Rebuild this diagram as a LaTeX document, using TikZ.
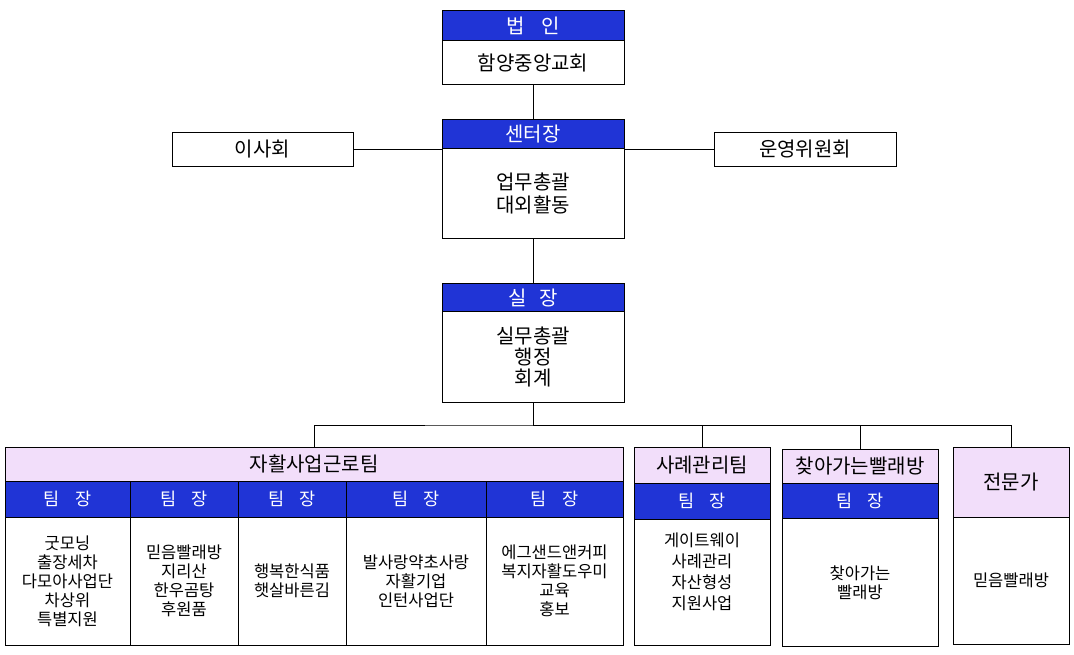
\documentclass[tikz,border=0pt]{standalone}
\usepackage{fontspec}
\setmainfont{Noto Sans CJK KR}
\definecolor{hdrblue}{RGB}{32,52,214}
\definecolor{teampink}{RGB}{242,222,250}
\tikzset{
  hdr/.style={draw, fill=hdrblue, text=white, inner sep=0pt, font=\fontsize{20}{24}\selectfont},
  subhdr/.style={hdr, font=\fontsize{17.5}{21}\selectfont},
  body/.style={draw, fill=white, inner sep=0pt, align=center, font=\fontsize{20}{23}\selectfont},
  small/.style={body, font=\fontsize{16.5}{19}\selectfont},
  pinkhdr/.style={draw, fill=teampink, inner sep=0pt, align=center, font=\fontsize{20}{24}\selectfont}
}
\begin{document}
\begin{tikzpicture}[x=1pt, y=-1pt, line width=1pt]
			\useasboundingbox (0,0) rectangle (1074,655);

			% Top boxes
			\node[hdr, minimum width=182pt, minimum height=29.7pt] (bubinhdr) at (533,25.85) {법\hspace{0.85em}인};
			\node[body, minimum width=182pt, minimum height=44.3pt] (bubinbody) at (533,62.85) {함양중앙교회};
			\node[hdr, minimum width=182pt, minimum height=28.7pt] (centerhdr) at (533,134.35) {센터장};
			\node[body, minimum width=182pt, minimum height=90.3pt] (centerbody) at (533,193.85) {업무총괄\\대외활동};
			\node[body, minimum width=181pt, minimum height=34pt] (isahoe) at (262.5,149.3) {이사회};
			\node[body, minimum width=182pt, minimum height=34pt] (unyoung) at (805,149.3) {운영위원회};
			\node[hdr, minimum width=182pt, minimum height=28.4pt] (silhdr) at (533,297.5) {실\hspace{0.6em}장};
			\node[body, minimum width=182pt, minimum height=90.6pt, font=\fontsize{20}{21}\selectfont] (silbody) at (533,357) {실무총괄\\행정\\회계};

			% Team boxes
			\node[pinkhdr, minimum width=618pt, minimum height=34.7pt] (jahwal) at (314,464.35) {자활사업근로팀};
			\node[subhdr, minimum width=125pt, minimum height=35.3pt] (jt1) at (67.5,499.35) {팀\hspace{0.9em}장};
			\node[subhdr, minimum width=108pt, minimum height=35.3pt] (jt2) at (184,499.35) {팀\hspace{0.9em}장};
			\node[subhdr, minimum width=108pt, minimum height=35.3pt] (jt3) at (292,499.35) {팀\hspace{0.9em}장};
			\node[subhdr, minimum width=140pt, minimum height=35.3pt] (jt4) at (416,499.35) {팀\hspace{0.9em}장};
			\node[subhdr, minimum width=137pt, minimum height=35.3pt] (jt5) at (554.5,499.35) {팀\hspace{0.9em}장};
			\node[small, minimum width=125pt, minimum height=128pt] (jb1) at (67.5,581) {굿모닝\\출장세차\\다모아사업단\\차상위\\특별지원};
			\node[small, minimum width=108pt, minimum height=128pt] (jb2) at (184,581) {믿음빨래방\\지리산\\한우곰탕\\후원품};
			\node[small, minimum width=108pt, minimum height=128pt] (jb3) at (292,581) {행복한식품\\햇살바른김};
			\node[small, minimum width=140pt, minimum height=128pt] (jb4) at (416,581) {발사랑약초사랑\\자활기업\\인턴사업단};
			\node[small, minimum width=137pt, minimum height=128pt] (jb5) at (554.5,581) {에그샌드앤커피\\복지자활도우미\\교육\\홍보};

			\node[pinkhdr, minimum width=136pt, minimum height=36pt] (sarye) at (702,465) {사례관리팀};
			\node[subhdr, minimum width=136pt, minimum height=36.3pt] (saryehdr) at (702,501.15) {팀\hspace{0.9em}장};
			\node[small, minimum width=136pt, minimum height=125.7pt, font=\fontsize{16.5}{21}\selectfont] (saryebody) at (702,582.15) {게이트웨이\\사례관리\\자산형성\\지원사업\\\mbox{}};

			\node[pinkhdr, minimum width=156pt, minimum height=34.7pt] (chaja) at (860,466.35) {찾아가는빨래방};
			\node[subhdr, minimum width=156pt, minimum height=34.6pt] (chajahdr) at (860,501) {팀\hspace{0.9em}장};
			\node[small, minimum width=156pt, minimum height=128.4pt] (chajabody) at (860,582.5) {찾아가는\\빨래방};

			\node[pinkhdr, minimum width=116pt, minimum height=70.3pt] (jeonmun) at (1011,482.15) {전문가};
			\node[small, minimum width=116pt, minimum height=126.7pt] (jeonmunbody) at (1011,580.65) {믿음빨래방};

			% Connectors
			\coordinate (bus) at (533,425);
			\draw (bubinbody.south) -- (centerhdr.north);
			\draw (isahoe.east) -- (isahoe.east -| centerhdr.west);
			\draw (unyoung.west) -- (unyoung.west -| centerhdr.east);
			\draw (centerbody.south) -- (silhdr.north);
			\draw (silbody.south) -- (bus);
			\draw (jahwal.north) |- (bus) -| (jeonmun.north);
			\draw (bus) -| (sarye.north);
			\draw (bus) -| (chaja.north);

		\end{tikzpicture}
\end{document}
